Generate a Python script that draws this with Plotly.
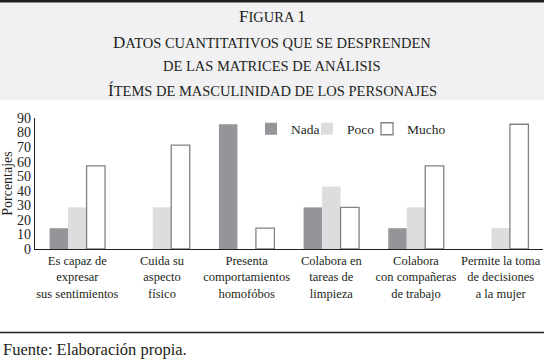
import plotly.graph_objects as go

categories = [
    "Es capaz de<br>expresar<br>sus sentimientos",
    "Cuida su<br>aspecto<br>físico",
    "Presenta<br>comportamientos<br>homofóbos",
    "Colabora en<br>tareas de<br>limpieza",
    "Colabora<br>con compañeras<br>de trabajo",
    "Permite la toma<br>de decisiones<br>a la mujer",
]
nada = [14.3, 0, 85.7, 28.6, 14.3, 0]
poco = [28.6, 28.6, 0, 42.9, 28.6, 14.3]
mucho = [57.1, 71.4, 14.3, 28.6, 57.1, 85.7]
y_ticks = [0, 10, 20, 30, 40, 50, 60, 70, 80, 90]

# title lines as (capital-size part, small-caps part, capital-size tail)
title_lines = [
    ("F", "IGURA ", "1"),
    ("D", "ATOS CUANTITATIVOS QUE SE DESPRENDEN", ""),
    ("", "DE LAS MATRICES DE ANÁLISIS", ""),
    ("Í", "TEMS DE MASCULINIDAD DE LOS PERSONAJES", ""),
]
source_text = "Fuente: Elaboración propia."

W, H = 544, 364
ML, MR, MT = 35, 1, 118
Y0 = 249.3
MB = H - Y0
PW = W - ML - MR
PH = Y0 - MT

def px(x):
    return (x - ML) / PW

def py(y):
    return (Y0 - y) / PH

FONT = "Liberation Serif, Times New Roman, serif"
INK = "#231f20"
CAP = 17
SC = 14.5

fig = go.Figure()
fig.add_bar(x=categories, y=nada, name="Nada", legend="legend",
            marker=dict(color="#939598", line=dict(width=0)))
fig.add_bar(x=categories, y=poco, name="Poco", legend="legend2",
            marker=dict(color="#dcdddf", line=dict(width=0)))
fig.add_bar(x=categories, y=mucho, name="Mucho", legend="legend3",
            marker=dict(color="#ffffff", line=dict(color="#808285", width=1.3)))

shapes = [
    dict(type="rect", xref="paper", yref="paper", x0=px(0), x1=px(W),
         y0=py(100), y1=py(0), fillcolor="#f1f1f3", line=dict(width=0), layer="below"),
    dict(type="line", xref="paper", yref="paper", x0=px(0), x1=px(W),
         y0=py(1), y1=py(1), line=dict(color="#231f20", width=2.5)),
    dict(type="line", xref="paper", yref="paper", x0=px(0), x1=px(W),
         y0=py(333), y1=py(333), line=dict(color="#231f20", width=1.3)),
]

def small_caps(big, small, tail):
    s = ""
    if big:
        s += f'<span style="font-size:{CAP}px">{big}</span>'
    s += small
    if tail:
        s += f'<span style="font-size:{CAP}px">{tail}</span>'
    return s

annotations = []
title_y = [16, 42, 66, 90]
for parts, yy in zip(title_lines, title_y):
    annotations.append(dict(text=small_caps(*parts), xref="paper", yref="paper",
                            x=px(W / 2), y=py(yy),
                            xanchor="center", yanchor="middle", showarrow=False,
                            font=dict(family=FONT, size=SC, color=INK)))
annotations.append(dict(text=source_text, xref="paper", yref="paper", x=px(1), y=py(350),
                        xanchor="left", yanchor="middle", showarrow=False,
                        font=dict(family=FONT, size=16.5, color=INK)))

def leg(xpix):
    return dict(orientation="h", x=px(xpix), y=py(129), xanchor="left", yanchor="middle",
                font=dict(family=FONT, size=13.5, color=INK), bgcolor="rgba(0,0,0,0)",
                itemwidth=30)

fig.update_layout(
    width=W, height=H,
    margin=dict(l=ML, r=MR, t=MT, b=MB, autoexpand=False),
    paper_bgcolor="white", plot_bgcolor="white",
    barmode="group", bargap=0.345, bargroupgap=0,
    font=dict(family=FONT, size=13, color=INK),
    showlegend=True,
    legend=leg(251), legend2=leg(307), legend3=leg(367),
    shapes=shapes,
    annotations=annotations,
    xaxis=dict(range=[-0.5, 5.5], showline=True, linecolor=INK, linewidth=1.3,
               ticks="", showgrid=False, tickangle=0, automargin=False,
               tickfont=dict(family=FONT, size=12.5, color=INK),
               fixedrange=True),
    yaxis=dict(range=[0, 90], tickvals=y_ticks, showline=True, linecolor=INK, linewidth=1.3,
               ticks="", showgrid=False, zeroline=False, automargin=False,
               tickfont=dict(family=FONT, size=14, color=INK),
               title=dict(text="Porcentajes", font=dict(family=FONT, size=14, color=INK), standoff=4),
               fixedrange=True),
)

fig.write_html("out.html", config={"displayModeBar": False},
               post_script="document.body.style.margin='0';document.body.style.overflow='hidden';")
